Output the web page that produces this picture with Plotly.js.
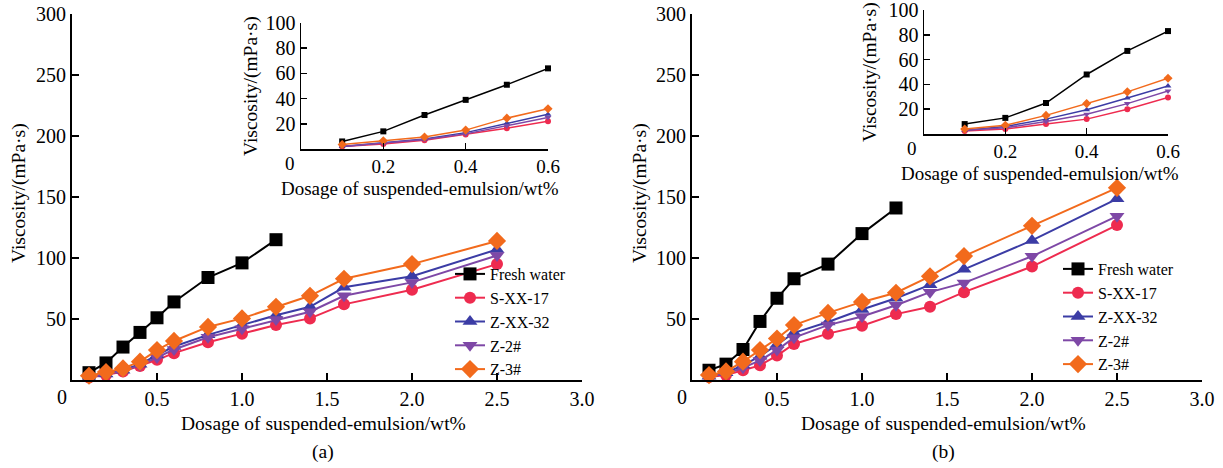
<!DOCTYPE html>
<html>
<head>
<meta charset="utf-8">
<script src="https://cdn.plot.ly/plotly-3.0.1.min.js"></script>
<style>html,body{margin:0;padding:0;background:#fff;}#chart{width:1223px;height:468px;}</style>
</head>
<body>
<div id="chart"></div>
<script>
// ---------- data ----------
const seriesNames = ["Fresh water", "S-XX-17", "Z-XX-32", "Z-2#", "Z-3#"];
const xFresh = [0.1, 0.2, 0.3, 0.4, 0.5, 0.6, 0.8, 1.0, 1.2];
const xAll = [0.1, 0.2, 0.3, 0.4, 0.5, 0.6, 0.8, 1.0, 1.2, 1.4, 1.6, 2.0, 2.5];
const xInset = [0.1, 0.2, 0.3, 0.4, 0.5, 0.6];

// (a)
const aFresh = [6, 14, 27, 39, 51, 64, 84, 96, 115];
const aSXX17 = [2, 4, 7, 11.5, 16.5, 22, 31, 38, 45, 50.5, 62, 74, 95];
const aZXX32 = [2, 5, 8, 13, 20.5, 27.5, 37, 45, 53, 60, 76, 85, 107];
const aZ2 = [2, 4.5, 7.5, 12, 18.5, 25, 35, 42, 49.5, 56, 69, 80, 102];
const aZ3 = [3.5, 6.5, 9.5, 15, 24.5, 32, 43.5, 50.5, 60, 69, 83, 95, 114];

// (b)
const bFresh = [8, 13, 25, 48, 67, 83, 95, 120, 141];
const bSXX17 = [2.5, 4, 8, 12, 20, 29.5, 38, 44.5, 54, 60, 72, 93, 127];
const bZXX32 = [3, 6, 12, 19.5, 29, 38.7, 47.5, 57.8, 67, 78, 90.7, 114.4, 148.5];
const bZ2 = [3, 5, 10, 16, 24.5, 34.7, 45, 52, 61.3, 72, 79.6, 101.4, 134.3];
const bZ3 = [4, 7, 15, 24.5, 34, 45, 55, 64, 71.5, 85, 101.6, 126.4, 157.5];

const mainYTicks = [50, 100, 150, 200, 250, 300];
const mainXTicks = [0.5, 1.0, 1.5, 2.0, 2.5, 3.0];
const insetYTicks = [20, 40, 60, 80, 100];
const insetXTicks = [0.2, 0.4, 0.6];

// ---------- styles ----------
const W = 1223, H = 468;
const FONT = "Liberation Serif, Times New Roman, serif";
const colors = ["#000000", "#ee2b4f", "#3b3ca5", "#7e48a6", "#f26a1c"];
const symbols = ["square", "circle", "triangle-up", "triangle-down", "diamond"];
const mainSizes = [13, 12, 13, 13, 14];
const insetSizes = [6, 6, 6, 6, 7];

function px(x) { return x / W; }
function py(y) { return 1 - y / H; }

const dataA = [aFresh, aSXX17, aZXX32, aZ2, aZ3];
const dataB = [bFresh, bSXX17, bZXX32, bZ2, bZ3];

const traces = [];
function addSet(data, xa, ya, xa2, ya2, legendName) {
  data.forEach((ys, i) => {
    const xs = i === 0 ? xFresh : xAll;
    traces.push({
      type: "scatter", mode: "lines+markers", name: seriesNames[i],
      x: xs, y: ys, xaxis: xa, yaxis: ya, legend: legendName,
      line: { color: colors[i], width: 2 },
      marker: { color: colors[i], symbol: symbols[i], size: mainSizes[i] },
      cliponaxis: false
    });
  });
  data.forEach((ys, i) => {
    const xs = i === 0 ? xFresh : xAll;
    const n = xInset.length;
    traces.push({
      type: "scatter", mode: "lines+markers", name: seriesNames[i], showlegend: false,
      x: xs.slice(0, n), y: ys.slice(0, n), xaxis: xa2, yaxis: ya2,
      line: { color: colors[i], width: 1.5 },
      marker: { color: colors[i], symbol: symbols[i], size: insetSizes[i] },
      cliponaxis: false
    });
  });
}
addSet(dataA, "x", "y", "x2", "y2", "legend");
addSet(dataB, "x3", "y3", "x4", "y4", "legend2");

const tickFont = { family: FONT, size: 20, color: "#000" };

function mainX(dom, anchor) {
  return {
    domain: dom, anchor: anchor, range: [0, 3], tickvals: mainXTicks, tickformat: ".1f",
    showgrid: false, zeroline: false, showline: true, linecolor: "#000", linewidth: 2,
    ticks: "inside", ticklen: 7, tickwidth: 2, tickcolor: "#000", tickfont: tickFont, fixedrange: true
  };
}
function mainY(dom, anchor) {
  return {
    domain: dom, anchor: anchor, range: [0, 300], tickvals: mainYTicks,
    showgrid: false, zeroline: false, showline: true, linecolor: "#000", linewidth: 2,
    ticks: "inside", ticklen: 7, tickwidth: 2, tickcolor: "#000", tickfont: tickFont, fixedrange: true
  };
}
function insetX(dom, anchor) {
  return {
    domain: dom, anchor: anchor, range: [0, 0.6], tickvals: insetXTicks, tickformat: ".1f",
    showgrid: false, zeroline: false, showline: true, linecolor: "#000", linewidth: 1.5,
    ticks: "inside", ticklen: 6, tickwidth: 1.5, tickcolor: "#000",
    tickfont: { family: FONT, size: 19, color: "#000" }, fixedrange: true
  };
}
function insetY(dom, anchor) {
  return {
    domain: dom, anchor: anchor, range: [0, 100], tickvals: insetYTicks,
    showgrid: false, zeroline: false, showline: true, linecolor: "#000", linewidth: 1.5,
    ticks: "inside", ticklen: 6, tickwidth: 1.5, tickcolor: "#000", tickfont: tickFont,
    ticklabeloverflow: "allow", fixedrange: true
  };
}

const mainYDom = [py(380), py(14)];
const layout = {
  width: W, height: H,
  margin: { l: 0, r: 0, t: 0, b: 0 },
  paper_bgcolor: "#fff", plot_bgcolor: "rgba(0,0,0,0)",
  font: { family: FONT, size: 20, color: "#000" },
  xaxis: mainX([px(72), px(582)], "y"),
  yaxis: mainY(mainYDom, "x"),
  xaxis2: insetX([px(301), px(548)], "y2"),
  yaxis2: insetY([py(149), py(23)], "x2"),
  xaxis3: mainX([px(692), px(1202)], "y3"),
  yaxis3: mainY(mainYDom, "x3"),
  xaxis4: insetX([px(924), px(1168)], "y4"),
  yaxis4: insetY([py(134), py(10)], "x4"),
  legend: {
    x: px(450), y: py(321.5), xanchor: "left", yanchor: "middle",
    bgcolor: "rgba(0,0,0,0)", borderwidth: 0, itemwidth: 30,
    font: { family: FONT, size: 16, color: "#000" }, tracegroupgap: 0
  },
  legend2: {
    x: px(1058), y: py(316.5), xanchor: "left", yanchor: "middle",
    bgcolor: "rgba(0,0,0,0)", borderwidth: 0, itemwidth: 30,
    font: { family: FONT, size: 16, color: "#000" }, tracegroupgap: 0
  },
  annotations: []
};

function ann(text, x, y, opts) {
  layout.annotations.push(Object.assign({
    text: text, xref: "paper", yref: "paper", x: px(x), y: py(y),
    xanchor: "center", yanchor: "middle", showarrow: false,
    font: { family: FONT, size: 19.5, color: "#000" }
  }, opts || {}));
}
const ytitle = "Viscosity/(mPa·s)";
const xtitle = "Dosage of suspended-emulsion/wt%";
const smallTitle = { family: FONT, size: 19, color: "#000" };
// (a)
ann(ytitle, 19, 193, { textangle: -90 });
ann(xtitle, 323, 423);
ann("(a)", 323, 452);
ann("0", 62, 397, { font: { family: FONT, size: 20, color: "#000" } });
ann(ytitle, 251, 86, { textangle: -90 });
ann(xtitle, 420, 188, { font: smallTitle });
ann("0", 290, 163, { font: { family: FONT, size: 19, color: "#000" } });
// (b)
ann(ytitle, 640, 193, { textangle: -90 });
ann(xtitle, 943, 423);
ann("(b)", 943, 452);
ann("0", 682, 397, { font: { family: FONT, size: 20, color: "#000" } });
ann(ytitle, 870, 72, { textangle: -90 });
ann(xtitle, 1040, 173, { font: smallTitle });
ann("0", 912, 148, { font: { family: FONT, size: 19, color: "#000" } });

Plotly.newPlot("chart", traces, layout, { staticPlot: true, displayModeBar: false });
</script>
</body>
</html>
